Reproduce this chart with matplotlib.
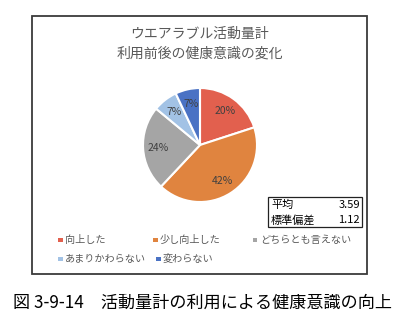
import matplotlib.pyplot as plt
from matplotlib.patches import Rectangle

plt.rcParams['font.family'] = ['Noto Sans CJK JP', 'DejaVu Sans']

# 回答区分と割合(%)
labels = ["向上した", "少し向上した", "どちらとも言えない", "あまりかわらない", "変わらない"]
shares = [20, 42, 24, 7, 7]
colors = ["#E2604E", "#E0843F", "#A5A5A5", "#A2C2E5", "#4A72C4"]

stat_names = ["平均", "標準偏差"]
stat_values = ["3.59", "1.12"]

title = "ウエアラブル活動量計\n利用前後の健康意識の変化"
caption = "図 3-9-14　活動量計の利用による健康意識の向上"

W, H = 400, 336
fig = plt.figure(figsize=(W / 100, H / 100), dpi=100)
fig.patch.set_facecolor("white")


def fx(px):
    return px / W


def fy(py):
    return 1 - py / H


# グラフ枠
fig.patches.append(Rectangle((fx(32), fy(274)), fx(367) - fx(32), fy(16) - fy(274),
                             transform=fig.transFigure, fill=False,
                             edgecolor="#3a3a3a", linewidth=1.3))

fig.text(fx(200), fy(44), title, ha="center", va="center", fontsize=10,
         color="#595959", linespacing=1.5)

# 円グラフ
ax = fig.add_axes([fx(143), fy(202), fx(114), 114 / H])
wedges, _, autotexts = ax.pie(
    shares, colors=colors, startangle=90, counterclock=False,
    autopct=lambda p: f"{p:.0f}%", pctdistance=0.74,
    wedgeprops=dict(edgecolor="white", linewidth=1.5),
    textprops=dict(fontsize=7.5, color="#404040"))
ax.set_xlim(-1.0, 1.0)
ax.set_ylim(-1.0, 1.0)
ax.set_aspect("equal")

# 平均・標準偏差
fig.patches.append(Rectangle((fx(268), fy(227)), fx(362) - fx(268), fy(197) - fy(227),
                             transform=fig.transFigure, fill=False,
                             edgecolor="#222222", linewidth=0.9))
for i, (n, v) in enumerate(zip(stat_names, stat_values)):
    y = fy(205 + i * 15)
    fig.text(fx(271), y, n, ha="left", va="center", fontsize=8, color="black")
    fig.text(fx(360), y, v, ha="right", va="center", fontsize=8, color="black")

# 凡例: Excel風に2段で流し込み
legend_slots = [(58, 240), (153, 240), (253, 240), (58, 259), (156, 259)]
for (px, py), lab, col in zip(legend_slots, labels, colors):
    fig.patches.append(Rectangle((fx(px), fy(py + 2.2)), fx(4.5), 4.5 / H,
                                 transform=fig.transFigure, facecolor=col,
                                 edgecolor="none"))
    fig.text(fx(px + 7), fy(py), lab, ha="left", va="center", fontsize=7.3,
             color="#595959")

fig.text(fx(13), fy(303), caption, ha="left", va="center", fontsize=12.3,
         color="black")

fig.savefig("out.png", dpi=100)
